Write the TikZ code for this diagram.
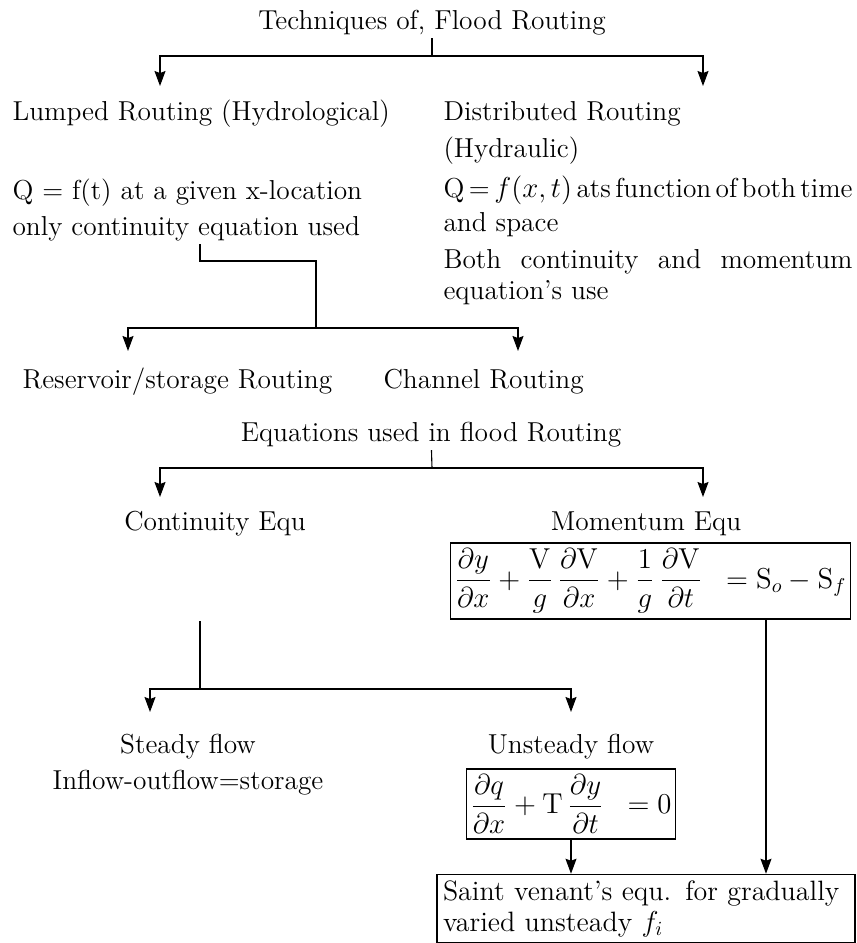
\documentclass[tikz,border=0pt]{standalone}
\usepackage{amsmath}
\usetikzlibrary{arrows.meta}
\begin{document}
\begin{tikzpicture}[x=0.5pt,y=-0.5pt,line width=0.55pt,>={Stealth[length=7.5pt,width=5.5pt,inset=1pt]},
  every node/.style={font=\fontsize{13.7}{17}\selectfont,inner sep=1.5pt},
  eqbox/.style={draw,inner sep=2pt}]
\useasboundingbox (0,0) rectangle (857,943);
% first level
\node[anchor=base] (tech) at (432,29) {Techniques of, Flood Routing};
\node[anchor=base west] (lumped) at (9,120) {Lumped Routing (Hydrological)};
\node[anchor=base west] (distr) at (440,120) {Distributed Routing};
\node[anchor=base west] (hydr) at (440,157) {(Hydraulic)};
\node[anchor=base west] (qleft) at (9,199) {Q = f(t) at a given x-location};
\node[anchor=base west] (qcont) at (9,235) {only continuity equation used};
\node[anchor=base west] (qright) at (440,197)
  {\makebox[204.5pt][s]{\spaceskip=0.2em plus 0.3em minus 0.05em Q\,=\,$f(x,t)$ ats function of both time}};
\node[anchor=base west] (qspace) at (440,231) {and space};
\node[anchor=base west] (both) at (440,268) {\makebox[204.5pt][s]{Both continuity and momentum}};
\node[anchor=base west] (equse) at (440,299) {equation's use};
\coordinate (t1) at (432,56);
\coordinate (lumpin) at (160,86);
\coordinate (distin) at (703,86);
\draw (tech) -- (t1);
\draw[->] (t1) -| (lumpin);
\draw[->] (t1) -| (distin);
% lumped routing
\node[anchor=base west] (res) at (19,388) {Reservoir/storage Routing};
\node[anchor=base west] (chan) at (380,388) {Channel Routing};
\coordinate (k1) at (200,261);
\coordinate (k2) at (316,328);
\coordinate (resin) at (128,351);
\coordinate (chanin) at (518,351);
\draw (qcont.south -| k1) -- (k1) -| (k2);
\draw[->] (k2) -| (resin);
\draw[->] (k2) -| (chanin);
% equations
\node[anchor=base] (eqs) at (431,441) {Equations used in flood Routing};
\node[anchor=base] (cont) at (215,530) {Continuity Equ};
\node[anchor=base] (mom) at (646,530) {Momentum Equ};
\coordinate (e1) at (432,468);
\coordinate (contin) at (160,497);
\coordinate (momin) at (703,497);
\draw (eqs) -- (e1);
\draw[->] (e1) -| (contin);
\draw[->] (e1) -| (momin);
\node[eqbox,minimum width=173.5pt,minimum height=38pt] (momeq) at (650.5,581)
  {$\dfrac{\partial y}{\partial x}+\dfrac{\mathrm{V}}{g}\,\dfrac{\partial \mathrm{V}}{\partial x}+\dfrac{1}{g}\,\dfrac{\partial \mathrm{V}}{\partial t}\;\;=\mathrm{S}_o-\mathrm{S}_f$};
% continuity
\node[anchor=base] (steady) at (188,753) {Steady flow};
\node[anchor=base] (inflow) at (188,789) {Inflow-outflow=storage};
\node[anchor=base] (unsteady) at (571,753) {Unsteady flow};
\node[eqbox,minimum width=94pt,minimum height=35pt] (unsteq) at (571,804)
  {$\dfrac{\partial q}{\partial x}+\mathrm{T}\,\dfrac{\partial y}{\partial t}\;\;=0$};
\coordinate (c0) at (200,621);
\coordinate (c1) at (200,689);
\coordinate (steadyin) at (150,712);
\coordinate (unstin) at (571,712);
\draw (c0) -- (c1);
\draw[->] (c1) -| (steadyin);
\draw[->] (c1) -| (unstin);
% saint venant
\node[draw,inner sep=3pt,text width=203pt,align=left,minimum height=33.5pt,
  font=\fontsize{14}{15.5}\selectfont] (saint) at (646,908.5)
  {Saint venant's equ. for gradually\\varied unsteady $f_i$};
\coordinate (mx) at (766,0);
\draw[->] (momeq.south -| mx) -- (saint.north -| mx);
\draw[->] (unsteq) -- (unsteq.south |- saint.north);
\end{tikzpicture}
\end{document}
